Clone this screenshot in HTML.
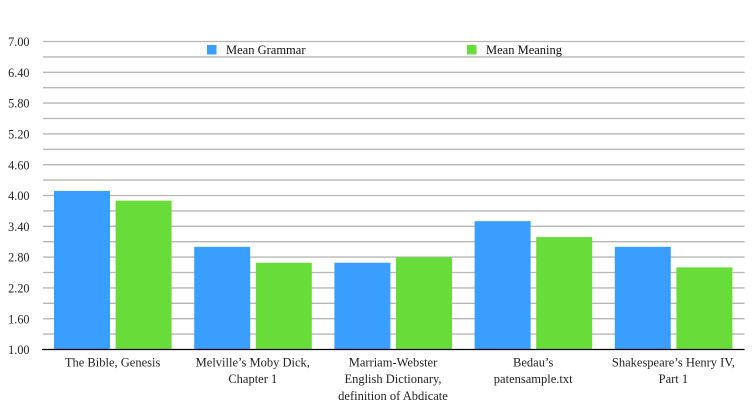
<!DOCTYPE html>
<html>
<head>
<meta charset="utf-8">
<style>
html,body{margin:0;padding:0;background:#fff;width:754px;height:414px;overflow:hidden}
svg{display:block;font-family:"Liberation Serif",serif;font-size:12.5px;fill:#222}
</style>
</head>
<body>
<svg id="chart" width="754" height="414" viewBox="0 0 754 414" xmlns="http://www.w3.org/2000/svg"></svg>
<script>
const categories = [
  ["The Bible, Genesis"],
  ["Melville\u2019s Moby Dick,", "Chapter 1"],
  ["Marriam-Webster", "English Dictionary,", "definition of Abdicate"],
  ["Bedau\u2019s", "patensample.txt"],
  ["Shakespeare\u2019s Henry IV,", "Part 1"]
];
const seriesNames = ["Mean Grammar", "Mean Meaning"];
const meanGrammar = [4.09, 3.0, 2.69, 3.5, 3.0];
const meanMeaning = [3.9, 2.69, 2.8, 3.19, 2.6];
const tickLabels = ["1.00","1.60","2.20","2.80","3.40","4.00","4.60","5.20","5.80","6.40","7.00"];
const gridValues = [1.3,1.6,1.9,2.2,2.5,2.8,3.1,3.4,3.7,4.0,4.3,4.6,4.9,5.2,5.5,5.8,6.1,6.4,6.7,7.0];

const NS = "http://www.w3.org/2000/svg";
const svg = document.getElementById("chart");
const plotLeft = 43, plotRight = 744.5, plotBottom = 349.5, plotTop = 41.5;
const yMin = 1, yMax = 7;
const band = 140.2, barW = 56, barGap = 5.6, barPad = 11;
const colors = ["#3a9eff", "#68dd3a"];

function y(v){ return plotBottom - (v - yMin) / (yMax - yMin) * (plotBottom - plotTop); }
function x(i){ return plotLeft + i * band; }
function make(tag, attrs, text){
  const el = document.createElementNS(NS, tag);
  for (const k in attrs) el.setAttribute(k, attrs[k]);
  if (text !== undefined) el.textContent = text;
  svg.appendChild(el);
  return el;
}

gridValues.forEach(function(v){
  const line = make("line", {x1: plotLeft, x2: plotRight, y1: y(v), y2: y(v), stroke: "#b6b6b6", "stroke-width": 1.33});
  
  
});

tickLabels.forEach(function(t){
  const label = make("text", {x: 29.5, y: y(parseFloat(t)) + 4.6, "text-anchor": "end", "font-size": 12.2}, t);
  
  
});

[meanGrammar, meanMeaning].forEach(function(values, s){
  values.forEach(function(v, i){
    const bx = x(i) + barPad + s * (barW + barGap);
    const bar = make("rect", {x: bx, y: y(v), width: barW, height: plotBottom - y(v), fill: colors[s]});
    
    
  });
});

const axis = make("line", {x1: 42, x2: plotRight, y1: plotBottom, y2: plotBottom, stroke: "#000", "stroke-width": 1.33});



categories.forEach(function(lines, i){
  lines.forEach(function(line, j){
    const label = make("text", {x: x(i) + band / 2 - 0.5, y: 366.3 + j * 16.8, "text-anchor": "middle"}, line);
    
    
  });
});

const legendX = [207, 467];
seriesNames.forEach(function(name, s){
  const swatch = make("rect", {x: legendX[s], y: 45, width: 9.5, height: 9.5, fill: colors[s]});
  
  
  const label = make("text", {x: legendX[s] + 19, y: 54, fill: "#111"}, name);
  
  
});
</script>
</body>
</html>
